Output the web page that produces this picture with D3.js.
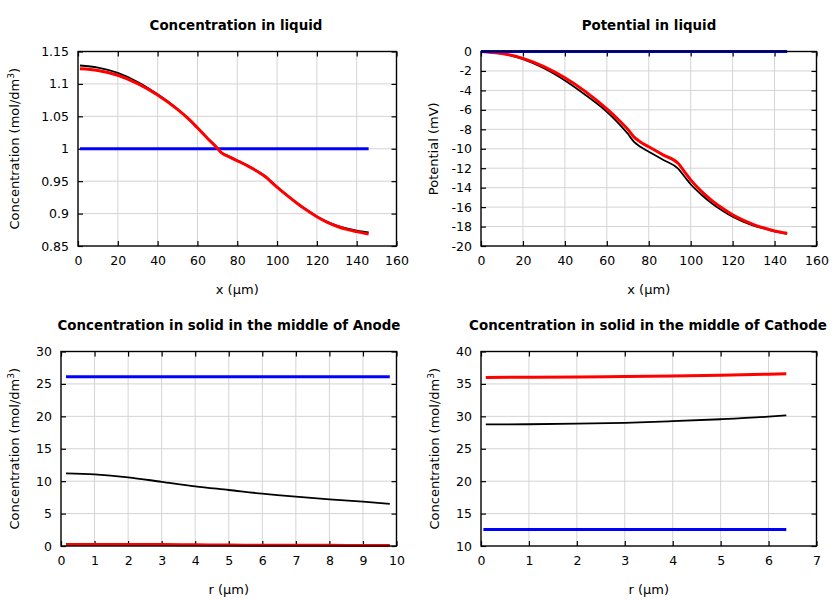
<!DOCTYPE html>
<html>
<head>
<meta charset="utf-8">
<script src="https://cdn.jsdelivr.net/npm/d3@7"></script>
<style>
  body { margin: 0; background: #fff; }
  svg { display: block; }
  text { font-family: "DejaVu Sans", sans-serif; fill: #000; }
</style>
</head>
<body>
<svg id="chart" width="840" height="600"></svg>
<script>
// ---------- Panel 1: Concentration in liquid ----------
const liqConcX      = [1, 10, 20, 30, 40, 50, 55, 60, 65, 70, 72, 76, 81, 85, 90, 94.5, 97, 100, 105, 110, 115, 120, 125, 130, 135, 140, 146];
const liqConcBlack  = [1.1284, 1.1252, 1.1170, 1.1030, 1.0840, 1.0612, 1.0478, 1.0325, 1.0165, 1.0010, 0.9945, 0.9880, 0.9805, 0.9745, 0.9657, 0.9565, 0.9495, 0.9412, 0.9285, 0.9165, 0.9055, 0.8955, 0.8875, 0.8815, 0.8770, 0.8738, 0.8711];
const liqConcRed    = [1.1233, 1.1207, 1.1133, 1.1005, 1.0830, 1.0608, 1.0476, 1.0323, 1.0163, 1.0008, 0.9940, 0.9875, 0.9800, 0.9740, 0.9652, 0.9560, 0.9490, 0.9408, 0.9280, 0.9160, 0.9050, 0.8950, 0.8868, 0.8805, 0.8757, 0.8722, 0.8685];
const liqConcBlueX  = [1, 146];
const liqConcBlue   = [1.0, 1.0];

// ---------- Panel 2: Potential in liquid ----------
const liqPotX       = [0, 10, 20, 30, 40, 50, 60, 65, 70, 73, 76, 80, 87, 94, 97, 100, 105, 110, 115, 120, 125, 130, 135, 140, 146];
const liqPotBlack   = [0, -0.22, -0.78, -1.72, -2.98, -4.5, -6.2, -7.25, -8.45, -9.3, -9.8, -10.3, -11.15, -12.05, -12.85, -13.65, -14.7, -15.6, -16.35, -17.0, -17.5, -17.9, -18.2, -18.5, -18.75];
const liqPotRed     = [0, -0.2, -0.7, -1.55, -2.7, -4.15, -5.9, -6.9, -8.0, -8.8, -9.3, -9.8, -10.65, -11.5, -12.35, -13.2, -14.35, -15.3, -16.1, -16.8, -17.35, -17.8, -18.15, -18.45, -18.7];
const liqPotBlueX   = [0, 146];
const liqPotBlue    = [0, 0];

// ---------- Panel 3: Concentration in solid, Anode ----------
const anodeR        = [0.15, 1, 2, 3, 4, 5, 6, 7, 8, 9, 9.8];
const anodeBlack    = [11.2, 11.05, 10.6, 9.9, 9.2, 8.64, 8.07, 7.6, 7.2, 6.84, 6.5];
const anodeRed      = [0.25, 0.25, 0.25, 0.24, 0.18, 0.14, 0.12, 0.11, 0.1, 0.08, 0.07];
const anodeBlueR    = [0.15, 9.8];
const anodeBlue     = [26.1, 26.1];

// ---------- Panel 4: Concentration in solid, Cathode ----------
const cathodeR      = [0.1, 1, 2, 3, 4, 5, 6, 6.37];
const cathodeBlack  = [28.75, 28.78, 28.87, 29.0, 29.25, 29.55, 29.95, 30.15];
const cathodeRed    = [36.0, 36.02, 36.06, 36.13, 36.22, 36.33, 36.5, 36.58];
const cathodeBlueR  = [0.05, 6.37];
const cathodeBlue   = [12.55, 12.55];

// ---------- Ticks ----------
const ticksX1 = [0, 20, 40, 60, 80, 100, 120, 140, 160];
const ticksY1 = [0.85, 0.9, 0.95, 1, 1.05, 1.1, 1.15];
const ticksY2 = [0, -2, -4, -6, -8, -10, -12, -14, -16, -18, -20];
const ticksX3 = [0, 1, 2, 3, 4, 5, 6, 7, 8, 9, 10];
const ticksY3 = [0, 5, 10, 15, 20, 25, 30];
const ticksX4 = [0, 1, 2, 3, 4, 5, 6, 7];
const ticksY4 = [10, 15, 20, 25, 30, 35, 40];

const titles = ["Concentration in liquid", "Potential in liquid",
                "Concentration in solid in the middle of Anode",
                "Concentration in solid in the middle of Cathode"];

const zip = (xs, ys) => xs.map((x, i) => [x, ys[i]]);
const fmt = v => String(+v.toFixed(4));

const panels = [
  { title: titles[0], box: [78, 51.5, 396.5, 246], xd: [0, 160], yd: [0.85, 1.15],
    xt: ticksX1, yt: ticksY1, xlab: "x (µm)", ylab: "conc", ylx: 19, tcx: 236,
    series: [
      { d: zip(liqConcBlueX, liqConcBlue), c: "#0000ff", w: 3 },
      { d: zip(liqConcX, liqConcBlack), c: "#000000", w: 1.8 },
      { d: zip(liqConcX, liqConcRed), c: "#ff0000", w: 3 } ] },
  { title: titles[1], box: [481, 51.5, 816.5, 246], xd: [0, 160], yd: [-20, 0],
    xt: ticksX1, yt: ticksY2, xlab: "x (µm)", ylab: "Potential (mV)", ylx: 438, tcx: 649,
    series: [
      { d: zip(liqPotX, liqPotBlack), c: "#000000", w: 1.8 },
      { d: zip(liqPotX, liqPotRed), c: "#ff0000", w: 3 },
      { d: zip(liqPotBlueX, liqPotBlue), c: "#0000ff", w: 3 } ] },
  { title: titles[2], box: [61, 351.5, 396.5, 546], xd: [0, 10], yd: [0, 30],
    xt: ticksX3, yt: ticksY3, xlab: "r (µm)", ylab: "conc", ylx: 19, tcx: 229,
    series: [
      { d: zip(anodeBlueR, anodeBlue), c: "#0000ff", w: 3 },
      { d: zip(anodeR, anodeBlack), c: "#000000", w: 1.8 },
      { d: zip(anodeR, anodeRed), c: "#ff0000", w: 3 } ] },
  { title: titles[3], box: [481, 351.5, 816.5, 546], xd: [0, 7], yd: [10, 40],
    xt: ticksX4, yt: ticksY4, xlab: "r (µm)", ylab: "conc", ylx: 439, tcx: 648,
    series: [
      { d: zip(cathodeBlueR, cathodeBlue), c: "#0000ff", w: 3 },
      { d: zip(cathodeR, cathodeBlack), c: "#000000", w: 1.8 },
      { d: zip(cathodeR, cathodeRed), c: "#ff0000", w: 3 } ] }
];

const svg = d3.select("#chart");

panels.forEach(p => {
  const [x0, y0, x1, y1] = p.box;
  const xs = d3.scaleLinear().domain(p.xd).range([x0, x1]);
  const ys = d3.scaleLinear().domain(p.yd).range([y1, y0]);
  const g = svg.append("g");

  // title
  g.append("text").attr("x", p.tcx).attr("y", y0 - 21.5)
    .attr("text-anchor", "middle").attr("font-weight", "bold").attr("font-size", 13.4)
    .text(p.title);

  // grid
  g.append("g").selectAll("line").data(p.xt.slice(1, -1)).join("line")
    .attr("x1", d => xs(d)).attr("x2", d => xs(d)).attr("y1", y0).attr("y2", y1)
    .attr("stroke", "#d4d4d4").attr("stroke-width", 1);
  g.append("g").selectAll("line").data(p.yt.slice(1, -1)).join("line")
    .attr("y1", d => ys(d)).attr("y2", d => ys(d)).attr("x1", x0).attr("x2", x1)
    .attr("stroke", "#d4d4d4").attr("stroke-width", 1);

  // axes with inward ticks (mirrored)
  const tl = 5;
  const bottom = d3.axisBottom(xs).tickValues(p.xt).tickSizeInner(-tl).tickSizeOuter(0).tickPadding(10).tickFormat(fmt);
  const top = d3.axisTop(xs).tickValues(p.xt).tickSizeInner(-tl).tickSizeOuter(0).tickFormat("");
  const left = d3.axisLeft(ys).tickValues(p.yt).tickSizeInner(-tl).tickSizeOuter(0).tickPadding(9).tickFormat(fmt);
  const right = d3.axisRight(ys).tickValues(p.yt).tickSizeInner(-tl).tickSizeOuter(0).tickFormat("");

  const ax = [
    g.append("g").attr("transform", `translate(0,${y1})`).call(bottom),
    g.append("g").attr("transform", `translate(0,${y0})`).call(top),
    g.append("g").attr("transform", `translate(${x0},0)`).call(left),
    g.append("g").attr("transform", `translate(${x1},0)`).call(right)
  ];
  ax.forEach(a => {
    a.select(".domain").remove();
    a.selectAll(".tick line").attr("stroke", "#000").attr("stroke-width", 1.2);
    a.selectAll("text").attr("font-family", "DejaVu Sans").attr("font-size", 12.5).attr("fill", "#000");
  });

  // series
  const line = d3.line().x(d => xs(d[0])).y(d => ys(d[1])).curve(d3.curveMonotoneX);
  const clipId = "clip" + Math.round(x0) + Math.round(y0);
  g.append("clipPath").attr("id", clipId).append("rect")
    .attr("x", x0 - 2).attr("y", y0 - 2).attr("width", x1 - x0 + 4).attr("height", y1 - y0 + 4);
  p.series.forEach(s => {
    g.append("path").datum(s.d).attr("d", line).attr("fill", "none")
      .attr("stroke", s.c).attr("stroke-width", s.w).attr("stroke-linejoin", "round")
      .attr("clip-path", `url(#${clipId})`);
  });

  // frame
  g.append("rect").attr("x", x0).attr("y", y0).attr("width", x1 - x0).attr("height", y1 - y0)
    .attr("fill", "none").attr("stroke", "#000").attr("stroke-width", 1.4);

  // x label
  g.append("text").attr("x", (x0 + x1) / 2).attr("y", y1 + 47.5)
    .attr("text-anchor", "middle").attr("font-size", 13).text(p.xlab);

  // y label
  const yl = g.append("text").attr("transform", `translate(${p.ylx},${(y0 + y1) / 2}) rotate(-90)`)
    .attr("text-anchor", "middle").attr("font-size", 13);
  if (p.ylab === "conc") {
    yl.append("tspan").text("Concentration (mol/dm");
    yl.append("tspan").attr("font-size", 9).attr("dy", -5).text("3");
    yl.append("tspan").attr("dy", 5).text(")");
  } else {
    yl.text(p.ylab);
  }
});
</script>
</body>
</html>
